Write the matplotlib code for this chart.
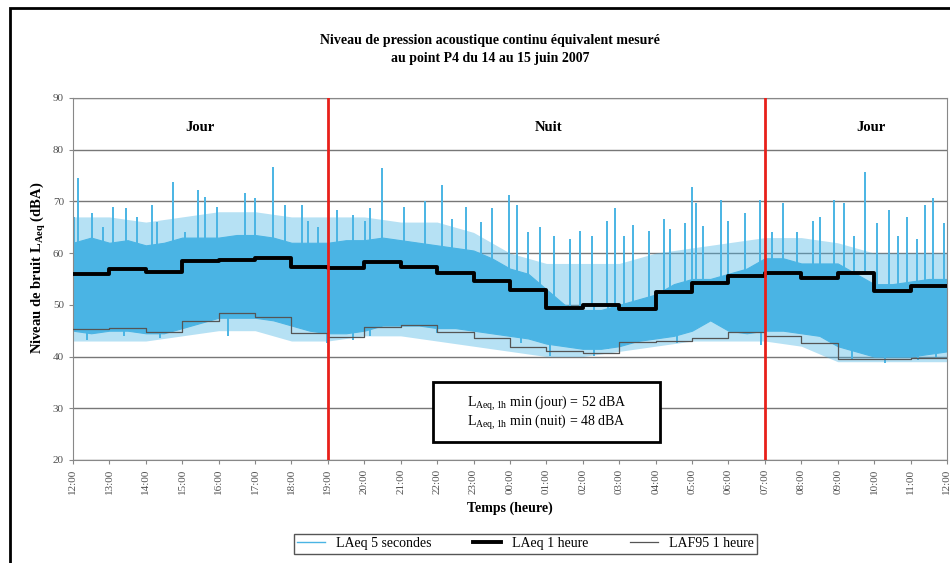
import numpy as np
import matplotlib.pyplot as plt
from matplotlib.patches import Rectangle

plt.rcParams['font.family'] = ['Liberation Serif', 'DejaVu Serif']
plt.rcParams['mathtext.fontset'] = 'custom'
plt.rcParams['mathtext.rm'] = 'Liberation Serif'
plt.rcParams['mathtext.bf'] = 'Liberation Serif:bold'

# hours since 12:00 on 14 June
hour_labels = ['12:00', '13:00', '14:00', '15:00', '16:00', '17:00', '18:00', '19:00',
               '20:00', '21:00', '22:00', '23:00', '00:00', '01:00', '02:00', '03:00',
               '04:00', '05:00', '06:00', '07:00', '08:00', '09:00', '10:00', '11:00', '12:00']

# LAeq 1 heure (hourly values)
laeq_1h = [56.0, 56.9, 56.3, 58.4, 58.6, 59.1, 57.3, 57.2, 58.2, 57.3, 56.2, 54.6,
           52.9, 49.3, 49.9, 49.2, 52.4, 54.2, 55.6, 56.1, 55.1, 56.2, 52.7, 53.6]
# LAF95 1 heure
laf95_1h = [45.3, 45.5, 44.7, 46.9, 48.4, 47.6, 44.6, 43.8, 45.8, 46.1, 44.7, 43.5,
            41.9, 41.1, 40.6, 42.9, 43.0, 43.5, 44.7, 44.0, 42.7, 39.6, 39.6, 39.7]

# LAeq 5 secondes: dense band (every 30 min), looser envelope (hourly),
# plus isolated peaks and dips
band_t = np.arange(0, 24.5, 0.5)
band_hi = [62, 63, 62, 62.5, 61.5, 62, 63, 63, 63, 63.5, 63.5, 63, 62, 62, 62, 62.5,
           62.5, 63, 62.5, 62, 61.5, 61, 60.5, 59, 57, 56, 53, 50, 49, 49, 50, 51,
           52, 54, 55, 55, 56, 57, 59, 59, 58, 58, 58, 56, 54, 54, 54.5, 55, 55]
band_lo = [45, 44.5, 45, 45, 44.5, 44.5, 45.5, 46.5, 47.5, 47.5, 47.5, 47, 46, 45,
           44.5, 44.5, 45, 46, 46, 46, 45.5, 45.5, 45, 44.5, 44, 43.5, 42.5, 42, 41.5,
           41.5, 42, 43, 43.5, 44, 45, 47, 45, 44.5, 45, 45, 44.5, 44, 42, 41, 40, 40,
           40, 40.5, 41]
env_hi = [67, 67, 66, 67, 68, 68, 67, 67, 67, 66, 66, 64, 60, 58, 58, 58, 60, 61, 62,
          63, 63, 62, 60, 60, 60]
env_lo = [43, 43, 43, 44, 45, 45, 43, 43, 44, 44, 43, 42, 41, 40, 40, 41, 42, 43, 43,
          43, 42, 39, 39, 39, 39]

peak_t = [0.03, 0.15, 0.51, 0.83, 1.09, 1.46, 1.75, 2.16, 2.32, 2.76, 3.08, 3.42, 3.63,
          3.95, 4.72, 5.0, 5.5, 5.82, 6.28, 6.46, 6.74, 7.24, 7.7, 8.02, 8.16, 8.48,
          9.08, 9.67, 10.13, 10.4, 10.8, 11.2, 11.5, 11.96, 12.2, 12.5, 12.83, 13.2,
          13.65, 13.93, 14.25, 14.66, 14.89, 15.12, 15.39, 15.81, 16.22, 16.4, 16.81,
          17.0, 17.12, 17.31, 17.79, 18.0, 18.46, 18.87, 19.19, 19.49, 19.88, 20.33,
          20.52, 20.89, 21.16, 21.44, 21.74, 22.08, 22.4, 22.65, 22.9, 23.18, 23.41,
          23.63, 23.91]
peak_v = [67, 74.5, 67.7, 65.1, 69.0, 68.7, 67, 69.3, 66, 73.8, 64, 72.2, 70.9, 69,
          71.6, 70.6, 76.7, 69.3, 69.3, 66.2, 65, 68.3, 67.4, 66.2, 68.7, 76.4, 69, 70,
          73.2, 66.5, 69, 66, 68.7, 71.2, 69.3, 64, 65.1, 63.3, 62.7, 64.3, 63.3, 66.2,
          68.7, 63.3, 65.5, 64.3, 66.5, 64.6, 65.9, 72.8, 69.6, 65.2, 70.3, 66.2, 67.7,
          70.3, 64, 69.6, 64, 66.2, 67, 70.3, 69.6, 63.3, 75.7, 65.9, 68.3, 63.3, 67,
          62.7, 69.3, 70.6, 65.9]
dip_t = [0.38, 1.4, 2.4, 4.27, 6.97, 7.7, 8.16, 10.0, 12.3, 13.1, 13.7, 14.3, 14.7,
         16.6, 18.9, 21.4, 22.3, 23.2, 23.7]
dip_v = [43.2, 44, 43.6, 44, 42.6, 43.2, 44, 44.5, 42.6, 40.1, 42, 40.1, 41.4, 42.6,
         42.3, 39.4, 38.8, 39.4, 40]

blue = '#4AB4E4'
fig = plt.figure(figsize=(9.5, 5.63), dpi=100)
ax = fig.add_axes([0.0768, 0.183, 0.92, 0.643])

hours = np.arange(25)
ax.fill_between(hours, env_lo, env_hi, color=blue, alpha=0.4, lw=0, zorder=2)
ax.fill_between(band_t, band_lo, band_hi, color=blue, lw=0.8, zorder=2)
base = [laeq_1h[min(int(t), 23)] for t in peak_t]
ax.vlines(peak_t, base, peak_v, color=blue, lw=1.4, zorder=2)
base = [laeq_1h[min(int(t), 23)] for t in dip_t]
ax.vlines(dip_t, dip_v, base, color=blue, lw=1.4, zorder=2)
ax.plot([], [], color=blue, lw=1, label='LAeq 5 secondes')

ax.step(hours, laeq_1h + laeq_1h[-1:], where='post', color='black', lw=2.8, zorder=4,
        label='LAeq 1 heure')
ax.step(hours, laf95_1h + laf95_1h[-1:], where='post', color='#555555', lw=0.9, zorder=3,
        label='LAF95 1 heure')

ax.axvline(7, color='#E8201A', lw=2, zorder=5)
ax.axvline(19, color='#E8201A', lw=2, zorder=5)

ax.set_xlim(0, 24)
ax.set_ylim(20, 90)
ax.set_yticks(range(20, 91, 10))
ax.set_xticks(hours)
ax.set_xticklabels(hour_labels, rotation=90)
ax.yaxis.grid(True, color='#777777', lw=1)
ax.set_axisbelow(True)
for s in ax.spines.values():
    s.set_color('#888888')
ax.tick_params(axis='both', labelsize=8, labelcolor='#505050', color='#888888',
               direction='out', length=3)

for x, txt in [(3.5, 'Jour'), (13.05, 'Nuit'), (21.9, 'Jour')]:
    ax.text(x, 84.2, txt, ha='center', va='center', fontsize=10.5, fontweight='bold')

ax.add_patch(Rectangle((9.89, 23.5), 6.24, 11.6, fc='white', ec='black', lw=2, zorder=6))
ax.text(13.0, 31.0, r'L$_{\mathrm{Aeq,1h}}$ min (jour) = 52 dBA', ha='center',
        va='center', fontsize=10, zorder=7)
ax.text(13.0, 27.3, r'L$_{\mathrm{Aeq,1h}}$ min (nuit) = 48 dBA', ha='center',
        va='center', fontsize=10, zorder=7)

ax.set_ylabel(r'Niveau de bruit L$_{\mathbf{Aeq}}$ (dBA)', fontsize=10.5, fontweight='bold')
ax.yaxis.set_label_coords(-0.028, 0.53)
ax.set_xlabel('Temps (heure)', fontsize=10, fontweight='bold', labelpad=5)

fig.text(0.516, 0.912, 'Niveau de pression acoustique continu équivalent mesuré\n'
         'au point P4 du 14 au 15 juin 2007', ha='center', va='center',
         fontsize=10, fontweight='bold', linespacing=1.45)

leg = fig.legend(loc='center', bbox_to_anchor=(0.553, 0.034), ncol=3, fontsize=10,
                 fancybox=False, edgecolor='#555555', framealpha=1, borderpad=0.25,
                 handlelength=2.0, columnspacing=3)
leg.get_frame().set_linewidth(1)

# outer frame of the figure
fig.patches.append(Rectangle((10 / 950, -0.05), 1.2, 1 - 8 / 563 + 0.05,
                             transform=fig.transFigure, fill=False, ec='black', lw=2))

fig.savefig('out.png', dpi=100)
